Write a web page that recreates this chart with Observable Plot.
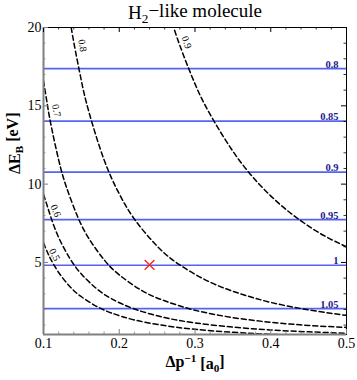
<!DOCTYPE html>
<html><head><meta charset="utf-8">
<script src="https://cdn.jsdelivr.net/npm/d3@7"></script>
<script src="https://cdn.jsdelivr.net/npm/@observablehq/plot@0.6"></script>
<style>
body{margin:0;background:#fff}
svg text{font-family:"Liberation Serif","Times New Roman",serif !important;}
</style>
</head><body><div id="chart"></div>
<script>
// ---- data ----
const xDomain = [0.1, 0.5];
const yDomain = [0.4, 20];
const xMajor = [0.1, 0.2, 0.3, 0.4, 0.5];
const xMinor = [0.12,0.14,0.16,0.18,0.22,0.24,0.26,0.28,0.32,0.34,0.36,0.38,0.42,0.44,0.46,0.48];
const yMajor = [5, 10, 15, 20];
const yMinor = [1,2,3,4,6,7,8,9,11,12,13,14,16,17,18,19];
const xTickLabels = ["0.1","0.2","0.3","0.4","0.5"];

const levelValues = [17.37, 14.02, 10.77, 7.73, 4.82, 2.05];
const levelLabels = ["0.8", "0.85", "0.9", "0.95", "1", "1.05"];

const contour05 = [[0.1,6.25],[0.105,5.67],[0.11,5.17],[0.12,4.36],[0.135,3.45],[0.15,2.81],[0.17,2.2],[0.19,1.77],[0.22,1.33],[0.26,0.97],[0.3,0.73],[0.35,0.54],[0.4,0.41],[0.45,0.33]];
const contour06 = [[0.1,9.35],[0.105,8.6],[0.11,7.85],[0.12,6.6],[0.135,5.24],[0.15,4.26],[0.17,3.33],[0.19,2.68],[0.22,2.03],[0.26,1.48],[0.3,1.14],[0.35,0.87],[0.4,0.69],[0.45,0.57],[0.5,0.48]];
const contour07 = [[0.1,16.6],[0.105,15.1],[0.11,13.75],[0.12,11.55],[0.13,9.85],[0.145,7.93],[0.16,6.52],[0.18,5.17],[0.2,4.21],[0.23,3.2],[0.26,2.55],[0.3,1.95],[0.35,1.48],[0.4,1.18],[0.45,0.98],[0.5,0.85]];
const contour08 = [[0.135,20.5],[0.14,19.05],[0.15,16.6],[0.16,14.6],[0.18,11.55],[0.2,9.38],[0.22,7.77],[0.25,6.04],[0.28,4.84],[0.32,3.74],[0.36,3.0],[0.4,2.45],[0.45,1.97],[0.5,1.62]];
const contour09 = [[0.27,20.3],[0.28,18.85],[0.3,16.4],[0.32,14.45],[0.35,12.1],[0.38,10.25],[0.41,8.8],[0.44,7.65],[0.47,6.72],[0.5,6.0]];
const contours = [contour05, contour06, contour07, contour08, contour09];

const contourLabels = ["0.5", "0.6", "0.7", "0.8", "0.9"];
const contourLabelX = [0.1145, 0.116, 0.117, 0.1515, 0.289];
const contourLabelY = [5.5, 8.3, 14.7, 18.85, 19.05];
const contourLabelAngle = [64, 67, 78, 80, 70];

const markerX = [0.24];
const markerY = [4.85];

// ---- layout ----
const W = 357, H = 380, mL = 43, mR = 11, mT = 27, mB = 46;
const fw = W - mL - mR, fh = H - mT - mB;
const majorLen = 5, minorLen = 2.5;
const axisGray = "#808080";
const serif = "Liberation Serif, Times New Roman, serif";

const labelRows = contourLabels.map((t, i) => ({t, x: contourLabelX[i], y: contourLabelY[i], a: contourLabelAngle[i]}));

const chart = Plot.plot({
  width: W, height: H,
  marginLeft: mL, marginRight: mR, marginTop: mT, marginBottom: mB,
  x: {domain: xDomain},
  y: {domain: yDomain},
  style: {background: "white", fontFamily: serif, fontSize: "14px", color: "black"},
  marks: [
    // level lines
    Plot.ruleY(levelValues, {stroke: "#5563f2", strokeWidth: 1.7}),
    Plot.text(levelValues, {x: xDomain[1], y: d => d, text: (d, i) => levelLabels[i], textAnchor: "end", lineAnchor: "bottom", dx: -8, dy: -1, fill: "#1c1c8e", fontWeight: "bold", fontSize: 10.5, fontFamily: serif}),
    // contour curves
    ...contours.map(c => Plot.line(c, {stroke: "black", strokeWidth: 1.5, strokeDasharray: "5,3", curve: "natural", clip: true})),
    Plot.text(labelRows, {x: "x", y: "y", text: "t", rotate: "a", fontSize: 10, fill: "black", fontFamily: serif}),
    // marker
    Plot.dot(markerX.map((x, i) => [x, markerY[i]]), {symbol: "times", r: 4.5, stroke: "#ff1c1c", strokeWidth: 1.3}),
    // frame
    Plot.frame({stroke: "black", strokeWidth: 1}),
    Plot.ruleX([xDomain[0]], {stroke: axisGray, strokeWidth: 2}),
    Plot.ruleY([yDomain[0]], {stroke: axisGray, strokeWidth: 2}),
    // ticks bottom / top
    Plot.tickX(xMajor, {x: d => d, insetTop: fh - majorLen, stroke: axisGray}),
    Plot.tickX(xMinor, {x: d => d, insetTop: fh - minorLen, stroke: axisGray, strokeWidth: 0.8}),
    Plot.tickX(xMajor, {x: d => d, insetBottom: fh - majorLen, stroke: "black"}),
    Plot.tickX(xMinor, {x: d => d, insetBottom: fh - minorLen, stroke: "black", strokeWidth: 0.8}),
    // ticks left / right
    Plot.tickY(yMajor, {y: d => d, insetRight: fw - majorLen, stroke: axisGray}),
    Plot.tickY(yMinor, {y: d => d, insetRight: fw - minorLen, stroke: axisGray, strokeWidth: 0.8}),
    Plot.tickY(yMajor, {y: d => d, insetLeft: fw - majorLen, stroke: "black"}),
    Plot.tickY(yMinor, {y: d => d, insetLeft: fw - minorLen, stroke: "black", strokeWidth: 0.8}),
    // axes labels
    Plot.axisX({ticks: xMajor, tickSize: 0, tickPadding: 4, tickFormat: (d, i) => xTickLabels[i], fontSize: 14, label: null, fontFamily: serif}),
    Plot.axisY({ticks: yMajor, tickSize: 0, tickPadding: 2, fontSize: 14, label: null, fontFamily: serif}),
    // titles
    Plot.text(["TITLE"], {frameAnchor: "top", dy: -15, fontSize: 19, lineAnchor: "middle", fontFamily: serif}),
    Plot.text(["XLABEL"], {frameAnchor: "bottom", dy: 27, fontSize: 16, fontWeight: "bold", lineAnchor: "middle", fontFamily: serif}),
    Plot.text(["YLABEL"], {frameAnchor: "left", dx: -29, dy: -7, rotate: -90, fontSize: 16, fontWeight: "bold", lineAnchor: "middle", fontFamily: serif})
  ]
});

function rich(node, parts) {
  node.textContent = "";
  for (const [txt, dy, small] of parts) {
    const ts = document.createElementNS("http://www.w3.org/2000/svg", "tspan");
    ts.textContent = txt;
    if (dy) ts.setAttribute("dy", dy);
    if (small) ts.setAttribute("font-size", "70%");
    node.appendChild(ts);
  }
}
d3.select(chart).selectAll("text").each(function() {
  const t = this.textContent;
  if (t === "TITLE") rich(this, [["H"], ["2", "0.3em", true], ["\u2212like molecule", "-0.3em"]]);
  else if (t === "XLABEL") rich(this, [["\u0394p"], ["\u22121", "-0.45em", true], [" [a", "0.45em"], ["0", "0.3em", true], ["]", "-0.3em"]]);
  else if (t === "YLABEL") rich(this, [["\u0394E"], ["B", "0.3em", true], [" [eV]", "-0.3em"]]);
});

document.getElementById("chart").appendChild(chart);
</script>
</body></html>
